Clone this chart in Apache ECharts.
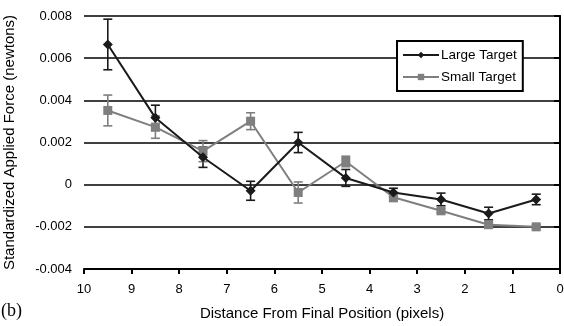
<!DOCTYPE html>
<html>
<head>
<meta charset="utf-8">
<script src="https://cdn.jsdelivr.net/npm/echarts@6/dist/echarts.min.js"></script>
<style>
  html, body { margin: 0; padding: 0; background: #fff; }
  #chart { width: 564px; height: 326px; }
</style>
</head>
<body>
<div id="chart"></div>
<script>
// distance from final position (pixels)
var positions = [9.5, 8.5, 7.5, 6.5, 5.5, 4.5, 3.5, 2.5, 1.5, 0.5]

// Large Target
var largeMean = [0.00665, 0.00317, 0.0013, -0.00029, 0.0020, 0.00032, -0.00037, -0.0007, -0.00137, -0.0007]
var largeErr = [0.0012, 0.0006, 0.00048, 0.00045, 0.00048, 0.0004, 0.0002, 0.0003, 0.0003, 0.00025]

// Small Target
var smallMean = [0.00352, 0.00273, 0.00159, 0.00301, -0.00037, 0.0011, -0.0006, -0.00124, -0.0019, -0.002]
var smallErr = [0.00073, 0.00053, 0.0005, 0.0004, 0.0005, 0.00025, 0.0002, 0.0001, 0.0001, 0.0001]

var chart = echarts.init(document.getElementById('chart'))

function pairs(mean) {
    var out = []
    for (var i = 0; i < positions.length; i++) out.push([positions[i], mean[i]])
    return out
}
function bars(mean, err) {
    var out = []
    for (var i = 0; i < positions.length; i++) out.push([positions[i], mean[i] - err[i], mean[i] + err[i]])
    return out
}

// error bar: vertical stem + two caps
function errorBar(color) {
    return function (params, api) {
        var lo = api.coord([api.value(0), api.value(1)])
        var hi = api.coord([api.value(0), api.value(2)])
        var w = 4.5
        var st = { stroke: color, lineWidth: 1.6 }
        return {
            type: 'group',
            children: [
                { type: 'line', shape: { x1: lo[0], y1: lo[1], x2: hi[0], y2: hi[1] }, style: st },
                { type: 'line', shape: { x1: lo[0] - w, y1: lo[1], x2: lo[0] + w, y2: lo[1] }, style: st },
                { type: 'line', shape: { x1: hi[0] - w, y1: hi[1], x2: hi[0] + w, y2: hi[1] }, style: st }
            ]
        }
    }
}

var font = 'Liberation Sans, Arial, sans-serif'

var option = {
    animation: false,
    backgroundColor: '#fff',
    textStyle: { fontFamily: font },
    grid: { left: 84, right: 4, top: 16, bottom: 57, containLabel: false, outerBoundsMode: 'none' },
    legend: {
        data: ['Large Target', 'Small Target'],
        orient: 'vertical',
        left: 397,
        top: 41,
        padding: [7, 6, 7, 5],
        itemGap: 8,
        itemWidth: 36,
        itemHeight: 8,
        borderColor: '#000',
        borderWidth: 2,
        backgroundColor: '#fff',
        textStyle: { fontFamily: font, fontSize: 13.5, color: '#000', padding: [0, 0, 0, -3] }
    },
    xAxis: {
        type: 'value',
        min: 0,
        max: 10,
        interval: 1,
        inverse: true,
        name: 'Distance From Final Position (pixels)',
        nameLocation: 'middle',
        nameGap: 37,
        nameTextStyle: { fontFamily: font, fontSize: 15, color: '#000' },
        axisLine: { show: true, onZero: false, lineStyle: { color: '#000', width: 2 } },
        axisTick: { show: true, length: 5, lineStyle: { color: '#000', width: 2 } },
        axisLabel: { fontFamily: font, fontSize: 13, color: '#000', margin: 14 },
        splitLine: { show: false }
    },
    yAxis: {
        type: 'value',
        min: -0.004,
        max: 0.008,
        interval: 0.002,
        name: 'Standardized Applied Force (newtons)',
        nameLocation: 'middle',
        nameGap: 67,
        nameTextStyle: { fontFamily: font, fontSize: 15, color: '#000' },
        axisLine: { show: true, lineStyle: { color: '#000', width: 2 } },
        axisTick: { show: true, length: 6, lineStyle: { color: '#000', width: 2 } },
        axisLabel: {
            fontFamily: font, fontSize: 13, color: '#000', margin: 12,
            formatter: function (v) { return String(+v.toFixed(3)) }
        },
        splitLine: { show: true, lineStyle: { color: '#000', width: 1.5 } }
    },
    graphic: [
        { type: 'line', shape: { x1: 560, y1: 15, x2: 560, y2: 270 }, style: { stroke: '#000', lineWidth: 1.5 } },
        { type: 'text', left: 1, top: 302, style: { text: '(b)', font: '18px Liberation Serif, Times New Roman, serif', fill: '#000' } }
    ],
    series: [
        {
            name: 'Large Target err',
            type: 'custom',
            renderItem: errorBar('#1a1a1a'),
            data: bars(largeMean, largeErr),
            encode: { x: 0, y: [1, 2] },
            z: 3
        },
        {
            name: 'Small Target err',
            type: 'custom',
            renderItem: errorBar('#7f7f7f'),
            data: bars(smallMean, smallErr),
            encode: { x: 0, y: [1, 2] },
            z: 3
        },
        {
            name: 'Small Target',
            type: 'line',
            data: pairs(smallMean),
            symbol: 'rect',
            symbolSize: 9,
            lineStyle: { color: '#7f7f7f', width: 2 },
            itemStyle: { color: '#7f7f7f' },
            z: 4
        },
        {
            name: 'Large Target',
            type: 'line',
            data: pairs(largeMean),
            symbol: 'diamond',
            symbolSize: 10,
            lineStyle: { color: '#1a1a1a', width: 2 },
            itemStyle: { color: '#1a1a1a' },
            z: 5
        }
    ]
}

chart.setOption(option)
</script>
</body>
</html>
